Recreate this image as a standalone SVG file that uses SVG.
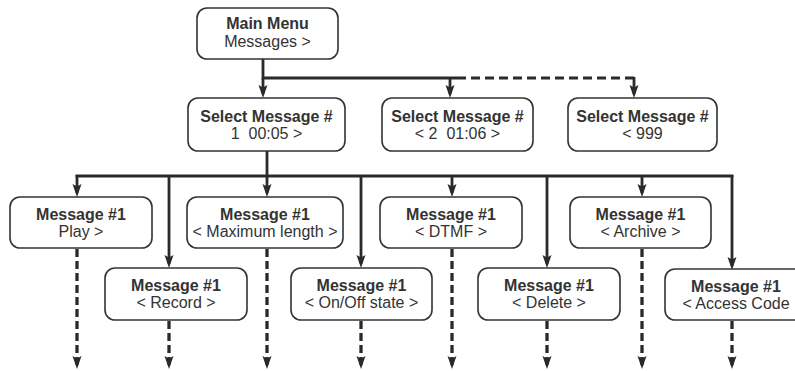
<svg xmlns="http://www.w3.org/2000/svg" width="795" height="371" viewBox="0 0 795 371">
<defs>
<marker id="ah" markerUnits="userSpaceOnUse" markerWidth="14" markerHeight="10" refX="9" refY="4.5" orient="auto">
<path d="M0,0 L13,4.5 L0,9 L2.5,4.5 Z" fill="#2a2a2a"/>
</marker>
<style>
.box{fill:#fff;stroke:#333;stroke-width:1.6}
.t{font-family:"Liberation Sans",Arial,sans-serif;font-size:16px;fill:#333;text-anchor:middle}
.b{font-weight:bold}
.s{fill:none;stroke:#2a2a2a;stroke-width:2.8}
.a{fill:none;stroke:#2a2a2a;stroke-width:2.8;marker-end:url(#ah)}
.d{fill:none;stroke:#2a2a2a;stroke-width:3.3;stroke-dasharray:8 4;marker-end:url(#ah)}
.dh{fill:none;stroke:#2a2a2a;stroke-width:2.8;stroke-dasharray:9 5}
</style>
</defs>
<rect width="795" height="371" fill="#fff"/>
<g id="connectors">
<path class="s" d="M263,59 V78 H457"/>
<path class="dh" d="M457,78 H634"/>
<path class="a" d="M263,78 V94"/>
<path class="a" d="M450,78 V94"/>
<path class="a" d="M634,77 V94"/>
<path class="s" d="M267,151 V176"/>
<path class="s" d="M77,176 H732" stroke-linecap="square"/>
<path class="a" d="M77,175 V193"/>
<path class="a" d="M267,175 V193"/>
<path class="a" d="M452,175 V193"/>
<path class="a" d="M642,175 V193"/>
<path class="a" d="M169,175 V264"/>
<path class="a" d="M361,175 V264"/>
<path class="a" d="M547,175 V264"/>
<path class="a" d="M732,175 V266"/>
<path class="d" d="M77,249 V365"/>
<path class="d" d="M267,249 V365"/>
<path class="d" d="M452,249 V365"/>
<path class="d" d="M642,249 V365"/>
<path class="d" d="M169,321 V365"/>
<path class="d" d="M361,321 V365"/>
<path class="d" d="M547,321 V365"/>
<path class="d" d="M732,321 V365"/>
</g>
<g id="main-menu">
<rect class="box" x="197" y="8" width="141" height="51" rx="10"/>
<text class="t b" x="267.5" y="29">Main Menu</text>
<text class="t" x="267.5" y="47">Messages &gt;</text>
</g>
<g id="select-1">
<rect class="box" x="188" y="98" width="157" height="53" rx="10"/>
<text class="t b" x="266.5" y="122">Select Message #</text>
<text class="t" x="266.5" y="139" xml:space="preserve">1  00:05 &gt;</text>
</g>
<g id="select-2">
<rect class="box" x="382" y="98" width="151" height="53" rx="10"/>
<text class="t b" x="457.5" y="122">Select Message #</text>
<text class="t" x="457.5" y="139" xml:space="preserve">&lt; 2  01:06 &gt;</text>
</g>
<g id="select-3">
<rect class="box" x="568" y="98" width="149" height="53" rx="10"/>
<text class="t b" x="642.5" y="122">Select Message #</text>
<text class="t" x="642.5" y="139">&lt; 999</text>
</g>
<g id="play">
<rect class="box" x="10" y="197" width="142" height="51" rx="10"/>
<text class="t b" x="81" y="220">Message #1</text>
<text class="t" x="81" y="237">Play &gt;</text>
</g>
<g id="record">
<rect class="box" x="105" y="268" width="142" height="52" rx="10"/>
<text class="t b" x="176" y="291">Message #1</text>
<text class="t" x="176" y="308">&lt; Record &gt;</text>
</g>
<g id="max-length">
<rect class="box" x="187" y="197" width="156" height="51" rx="10"/>
<text class="t b" x="265" y="220">Message #1</text>
<text class="t" x="265" y="237">&lt; Maximum length &gt;</text>
</g>
<g id="onoff">
<rect class="box" x="291" y="268" width="141" height="52" rx="10"/>
<text class="t b" x="361.5" y="291">Message #1</text>
<text class="t" x="361.5" y="308">&lt; On/Off state &gt;</text>
</g>
<g id="dtmf">
<rect class="box" x="380" y="197" width="142" height="51" rx="10"/>
<text class="t b" x="451" y="220">Message #1</text>
<text class="t" x="451" y="237">&lt; DTMF &gt;</text>
</g>
<g id="delete">
<rect class="box" x="478" y="268" width="142" height="52" rx="10"/>
<text class="t b" x="549" y="291">Message #1</text>
<text class="t" x="549" y="308">&lt; Delete &gt;</text>
</g>
<g id="archive">
<rect class="box" x="570" y="197" width="141" height="51" rx="10"/>
<text class="t b" x="640.5" y="220">Message #1</text>
<text class="t" x="640.5" y="237">&lt; Archive &gt;</text>
</g>
<g id="access-code">
<rect class="box" x="665" y="269" width="142" height="51" rx="10"/>
<text class="t b" x="736" y="292">Message #1</text>
<text class="t" x="736" y="309">&lt; Access Code</text>
</g>
</svg>
